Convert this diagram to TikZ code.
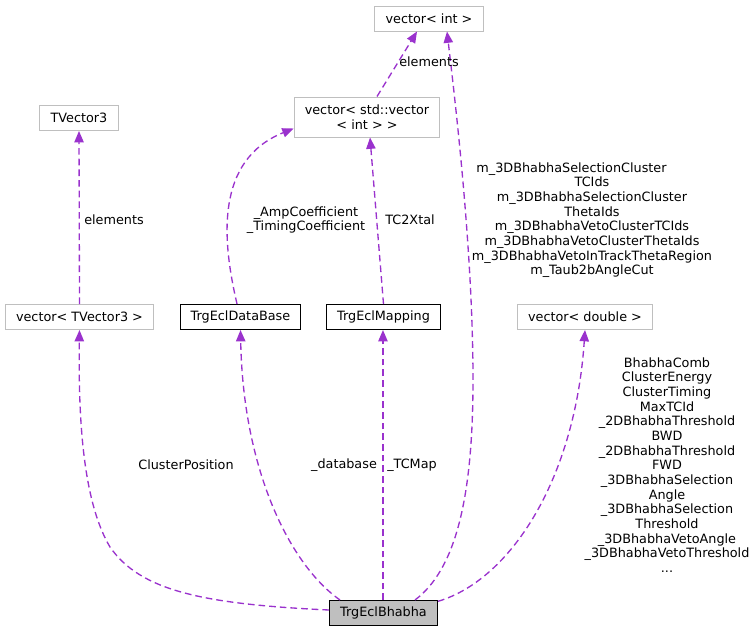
\documentclass[tikz,border=0pt]{standalone}
\usepackage{fontspec}
\setmainfont{DejaVu Sans}
\usepackage{xcolor}
\usepackage{tikz}
\usetikzlibrary{positioning, calc, arrows.meta}
\definecolor{edgepurple}{HTML}{9A32CD}
\definecolor{boxgrey}{HTML}{BFBFBF}

\begin{document}
\begin{tikzpicture}[x=0.75pt, y=-0.75pt,
	every node/.style={font=\fontsize{9.6}{11}\selectfont, inner ysep=0pt},
	extbox/.style={draw=boxgrey, line width=0.75pt, fill=white, inner xsep=8pt, minimum height=18.75pt},
	docbox/.style={extbox, draw=black},
	mainbox/.style={docbox, fill=boxgrey},
	member/.style={draw=edgepurple, line width=1pt, dash pattern=on 5pt off 3pt, -{Triangle[length=8.5pt, width=7pt]}},
	lbl/.style={align=center, inner sep=0pt}]

\useasboundingbox (0,0) rectangle (756,632);

% classes
\node[extbox] (vint) at (429,18.5) {vector< int >};
\node[extbox, align=center, minimum height=30pt] (vvec) at (367,117) {vector< std::vector\\< int > >};
\node[extbox] (tv3) at (79,118) {TVector3};
\node[extbox] (vtv3) at (79.5,317) {vector< TVector3 >};
\node[docbox] (db) at (240.5,317) {TrgEclDataBase};
\node[docbox] (map) at (383.5,317) {TrgEclMapping};
\node[extbox] (vdbl) at (585,317) {vector< double >};
\node[mainbox] (bha) at (383.5,613) {TrgEclBhabha};

% members
\draw[member] ([xshift=7.5pt]vvec.north) -- ([xshift=-9pt]vint.south);
\draw[member] (vtv3.north) -- (tv3.south);
\draw[member] ([xshift=-2.6pt]db.north) .. controls (222,240) and (215,160) .. ([yshift=6.75pt]vvec.south west);
\draw[member] (map.north) -- ([xshift=2.25pt]vvec.south);
\draw[member] ([xshift=23.6pt]bha.north) .. controls (455,570) and (473,500) .. (473,380)
	.. controls (473,250) and (455,100) .. ([xshift=13.5pt]vint.south);
\draw[member] ([yshift=2.25pt]bha.west) .. controls (200,604) and (140,590) .. (110,547)
	.. controls (85,505) and (78,430) .. (vtv3.south);
\draw[member] ([xshift=-32.6pt]bha.north) .. controls (290,565) and (243,470) .. (db.south);
\draw[member] ([xshift=-0.4pt]bha.north) -- ([xshift=-0.4pt]map.south);
\draw[member] ([yshift=-1pt]bha.north east) .. controls (510,580) and (575,480) .. (vdbl.south);

% labels
\node[lbl] (l1) at (429,62) {elements};
\node[lbl] (l2) at (114,220) {elements};
\node[lbl] (l3) at (306,220) {\_AmpCoefficient\\\_TimingCoefficient};
\node[lbl] (l4) at (410,220) {TC2Xtal};
\node[lbl] (l5) at (592,220) {m\_3DBhabhaSelectionCluster\hspace*{3.2em}\\TCIds\\m\_3DBhabhaSelectionCluster\hspace*{3.2em}\\ThetaIds\\m\_3DBhabhaVetoClusterTCIds\\m\_3DBhabhaVetoClusterThetaIds\\m\_3DBhabhaVetoInTrackThetaRegion\\m\_Taub2bAngleCut};
\node[lbl] (l6) at (186,465) {ClusterPosition};
\node[lbl] (l7) at (344,465) {\_database};
\node[lbl] (l8) at (412,465) {\_TCMap};
\node[lbl] (l9) at (667,465) {BhabhaComb\\ClusterEnergy\\ClusterTiming\\MaxTCId\\\_2DBhabhaThreshold\hspace*{2.2em}\\BWD\\\_2DBhabhaThreshold\hspace*{2.2em}\\FWD\\\_3DBhabhaSelection\hspace*{2.2em}\\Angle\\\_3DBhabhaSelection\hspace*{2.2em}\\Threshold\\\_3DBhabhaVetoAngle\\\_3DBhabhaVetoThreshold\\...};

\end{tikzpicture}
\end{document}
